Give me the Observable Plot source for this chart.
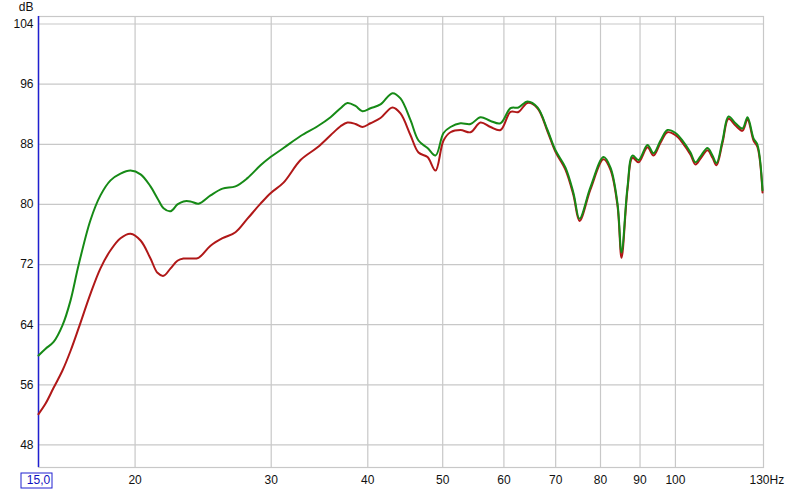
<!DOCTYPE html>
<html><head><meta charset="utf-8">
<script src="https://cdn.jsdelivr.net/npm/d3@7"></script>
<script src="https://cdn.jsdelivr.net/npm/@observablehq/plot@0.6"></script>
<style>
body{margin:0;background:#fff;}
svg{font-family:Arial,"Liberation Sans",sans-serif;}
</style>
</head><body><div id="chart"></div>
<script>
const freqs = [15.00,15.32,15.69,16.11,16.50,16.90,17.51,18.04,18.59,19.15,19.73,20.33,20.94,21.38,21.77,22.23,22.69,23.10,23.59,24.16,25.04,25.95,26.97,27.95,29.06,29.94,31.12,32.74,34.44,35.80,36.88,37.65,38.56,39.37,40.32,41.54,43.05,44.09,45.43,46.52,47.79,48.94,50.12,51.17,52.72,54.32,55.96,57.65,59.39,61.19,62.66,64.37,66.31,68.32,69.96,72.08,73.82,75.15,77.65,80.72,82.42,84.16,85.17,86.70,88.00,89.59,92.02,93.68,95.66,97.67,100.03,102.14,104.60,106.17,107.76,110.03,111.68,113.02,115.06,117.13,119.60,122.12,123.95,126.19,127.70,129.62];
const greenDb = [59.9,60.8,61.7,63.9,67.2,71.9,77.9,81.2,83.2,84.1,84.5,84.0,82.4,80.8,79.5,79.1,80.0,80.4,80.4,80.1,81.2,82.1,82.4,83.5,85.2,86.3,87.5,89.1,90.4,91.6,92.8,93.5,93.1,92.4,92.8,93.3,94.8,94.1,91.2,88.5,87.5,86.5,89.5,90.3,90.8,90.7,91.6,91.1,90.8,92.8,92.9,93.7,92.9,89.9,87.2,84.9,81.5,78.1,82.3,86.3,84.9,80.1,73.6,82.3,86.5,85.9,87.9,86.8,88.5,89.9,89.5,88.5,86.9,85.6,86.4,87.5,86.5,85.5,88.5,91.7,90.8,90.1,91.6,88.8,87.9,81.9];
const redDb = [52.1,53.5,55.6,57.9,60.5,63.5,68.1,71.5,73.9,75.5,76.1,75.2,72.8,70.9,70.5,71.5,72.5,72.8,72.8,72.9,74.5,75.5,76.3,78.1,80.1,81.5,82.9,85.9,87.6,89.2,90.4,90.9,90.7,90.3,90.8,91.5,92.9,92.1,89.2,86.9,86.3,84.5,88.5,89.6,89.9,89.6,90.9,90.3,89.9,92.3,92.3,93.5,92.8,89.7,87.0,84.6,81.2,77.8,82.0,86.0,84.6,79.8,72.9,82.0,86.2,85.6,87.6,86.5,88.2,89.6,89.2,88.2,86.6,85.3,86.1,87.2,86.2,85.2,88.2,91.4,90.5,89.8,91.3,88.5,87.6,81.6];
const xTicks = [20,30,40,50,60,70,80,90,100];
const yTicks = [48,56,64,72,80,88,96,104];
const xStartLabel = "15,0";
const xEndLabel = "130Hz";
const yUnit = "dB";

const green = freqs.map((f,i)=>({f, db: greenDb[i]}));
const red = freqs.map((f,i)=>({f, db: redDb[i]}));

const chart = Plot.plot({
  width: 800, height: 490,
  marginLeft: 38, marginRight: 37, marginTop: 16, marginBottom: 23,
  style: {fontFamily: "Arial, 'Liberation Sans', sans-serif", fontSize: "12px", color: "#111", background: "#fff"},
  x: {type: "log", domain: [15, 130], axis: null},
  y: {domain: [45, 105], axis: null},
  marks: [
    Plot.gridX(xTicks, {stroke: "#c8c8c8", strokeOpacity: 1, strokeWidth: 1.2}),
    Plot.gridY(yTicks, {stroke: "#c8c8c8", strokeOpacity: 1, strokeWidth: 1.2}),
    Plot.frame({stroke: "#c8c8c8", strokeWidth: 1.2}),
    Plot.ruleX([15], {stroke: "#2020d0", strokeWidth: 1.5}),
    Plot.line(red, {x: "f", y: "db", stroke: "#b01818", strokeWidth: 2, curve: "catmull-rom"}),
    Plot.line(green, {x: "f", y: "db", stroke: "#168a16", strokeWidth: 2, curve: "catmull-rom"}),
    Plot.text(xTicks, {x: d=>d, text: d=>String(d), frameAnchor: "bottom", lineAnchor: "middle", dy: 13, fontSize: 12, fill: "#111"}),
    Plot.axisY(yTicks, {tickSize: 0, tickPadding: 5, fontSize: 12, label: null}),
    Plot.text([130], {x: d=>d, text: ()=>xEndLabel, frameAnchor: "bottom", textAnchor: "start", lineAnchor: "middle", dx: -14, dy: 13, fontSize: 12, fill: "#111"}),
    Plot.text([15], {x: d=>d, text: ()=>xStartLabel, frameAnchor: "bottom", lineAnchor: "middle", dy: 13, fontSize: 12, fill: "#1010c0"}),
    Plot.text([yUnit], {text: d=>d, frameAnchor: "top-left", textAnchor: "end", lineAnchor: "middle", dx: -5, dy: -9, fontSize: 12, fill: "#111"})
  ]
});
document.getElementById("chart").appendChild(chart);
// box around the start-frequency label
const sx = chart.scale("x").apply(15);
d3.select(chart).append("rect")
  .attr("x", sx - 17).attr("y", 473).attr("width", 31).attr("height", 15)
  .attr("fill", "none").attr("stroke", "#2020d0").attr("stroke-width", 1);
</script>
</body></html>
